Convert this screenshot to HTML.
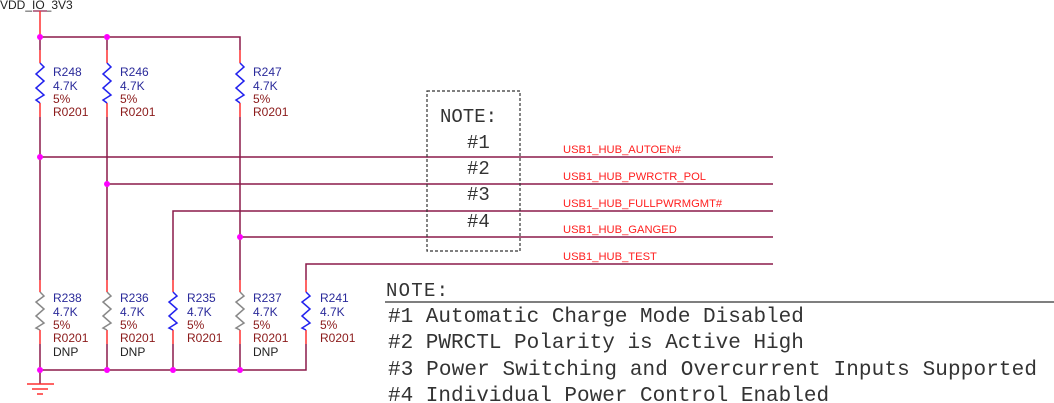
<!DOCTYPE html>
<html><head><meta charset="utf-8"><style>
html,body{margin:0;padding:0;background:#fff;}
svg{display:block;}
.l{font-family:"Liberation Sans",sans-serif;font-size:12px;}
.b{fill:#2a2a9a}.r{fill:#8b1a1a}.k{fill:#222}
.n{font-family:"Liberation Sans",sans-serif;font-size:11.2px;fill:#ff2020;}
.m{font-family:"Liberation Mono",monospace;fill:#333;}
</style></head><body>
<svg width="1054" height="403" viewBox="0 0 1054 403" xmlns="http://www.w3.org/2000/svg">
<text x="0" y="9" class="l k" font-size="11">VDD_IO_3V3</text>
<line x1="33" y1="11" x2="47" y2="11" stroke="#8b1a4a" stroke-width="1.2"/>
<line x1="40" y1="11" x2="40" y2="37" stroke="#ff3030" stroke-width="1.5"/>
<g fill="none" stroke="#8b1a4a" stroke-width="1.5">
<polyline points="40,37 240,37 240,50"/>
<line x1="40" y1="117" x2="40" y2="280"/>
<line x1="107" y1="37" x2="107" y2="50"/>
<line x1="40" y1="37" x2="40" y2="50"/>
<line x1="107" y1="117" x2="107" y2="280"/>
<line x1="240" y1="117" x2="240" y2="280"/>
<polyline points="173,280 173,211 773,211"/>
<polyline points="306,280 306,264 773,264"/>
<line x1="40" y1="157" x2="773" y2="157"/>
<line x1="107" y1="184" x2="773" y2="184"/>
<line x1="240" y1="237" x2="773" y2="237"/>
<polyline points="40,344 40,370 306,370 306,344"/>
<line x1="107" y1="344" x2="107" y2="370"/>
<line x1="173" y1="344" x2="173" y2="370"/>
<line x1="240" y1="344" x2="240" y2="370"/>
<line x1="40" y1="370" x2="40" y2="384"/>
</g>
<g stroke="#ff3030" stroke-width="1.5">
<line x1="40" y1="50" x2="40" y2="63"/><line x1="40" y1="103" x2="40" y2="117"/>
<line x1="107" y1="50" x2="107" y2="63"/><line x1="107" y1="103" x2="107" y2="117"/>
<line x1="240" y1="50" x2="240" y2="63"/><line x1="240" y1="103" x2="240" y2="117"/>
<line x1="40" y1="280" x2="40" y2="292"/><line x1="40" y1="330" x2="40" y2="344"/>
<line x1="107" y1="280" x2="107" y2="292"/><line x1="107" y1="330" x2="107" y2="344"/>
<line x1="173" y1="280" x2="173" y2="292"/><line x1="173" y1="330" x2="173" y2="344"/>
<line x1="240" y1="280" x2="240" y2="292"/><line x1="240" y1="330" x2="240" y2="344"/>
<line x1="306" y1="280" x2="306" y2="292"/><line x1="306" y1="330" x2="306" y2="344"/>
<line x1="27" y1="384" x2="54" y2="384"/><line x1="32" y1="389" x2="48" y2="389"/><line x1="37" y1="394" x2="43" y2="394"/>
</g>
<g fill="none" stroke-width="1.5">
<polyline stroke="#2222ee" points="40,63 44,67 36,74 44,81 36,88 44,95 36,100 40,103"/>
<polyline stroke="#2222ee" points="107,63 111,67 103,74 111,81 103,88 111,95 103,100 107,103"/>
<polyline stroke="#2222ee" points="240,63 244,67 236,74 244,81 236,88 244,95 236,100 240,103"/>
<polyline stroke="#888" points="40,292 44,296 36,302 44,309 36,316 44,323 36,328 40,330"/>
<polyline stroke="#888" points="107,292 111,296 103,302 111,309 103,316 111,323 103,328 107,330"/>
<polyline stroke="#2222ee" points="173,292 177,296 169,302 177,309 169,316 177,323 169,328 173,330"/>
<polyline stroke="#888" points="240,292 244,296 236,302 244,309 236,316 244,323 236,328 240,330"/>
<polyline stroke="#2222ee" points="306,292 310,296 302,302 310,309 302,316 310,323 302,328 306,330"/>
</g>
<g fill="#ff00ff">
<circle cx="40" cy="37" r="3"/><circle cx="107" cy="37" r="3"/>
<circle cx="40" cy="157" r="3"/><circle cx="107" cy="184" r="3"/><circle cx="240" cy="237" r="3"/>
<circle cx="40" cy="370" r="3"/><circle cx="107" cy="370" r="3"/><circle cx="173" cy="370" r="3"/><circle cx="240" cy="370" r="3"/>
</g>
<g class="l">
<text x="53" y="76" class="b">R248</text><text x="53" y="90" class="b">4.7K</text><text x="53" y="103" class="r">5%</text><text x="53" y="116" class="r">R0201</text>
<text x="120" y="76" class="b">R246</text><text x="120" y="90" class="b">4.7K</text><text x="120" y="103" class="r">5%</text><text x="120" y="116" class="r">R0201</text>
<text x="253" y="76" class="b">R247</text><text x="253" y="90" class="b">4.7K</text><text x="253" y="103" class="r">5%</text><text x="253" y="116" class="r">R0201</text>
<text x="53" y="302" class="b">R238</text><text x="53" y="316" class="b">4.7K</text><text x="53" y="329" class="r">5%</text><text x="53" y="342" class="r">R0201</text><text x="53" y="356" class="k">DNP</text>
<text x="120" y="302" class="b">R236</text><text x="120" y="316" class="b">4.7K</text><text x="120" y="329" class="r">5%</text><text x="120" y="342" class="r">R0201</text><text x="120" y="356" class="k">DNP</text>
<text x="187" y="302" class="b">R235</text><text x="187" y="316" class="b">4.7K</text><text x="187" y="329" class="r">5%</text><text x="187" y="342" class="r">R0201</text>
<text x="253" y="302" class="b">R237</text><text x="253" y="316" class="b">4.7K</text><text x="253" y="329" class="r">5%</text><text x="253" y="342" class="r">R0201</text><text x="253" y="356" class="k">DNP</text>
<text x="320" y="302" class="b">R241</text><text x="320" y="316" class="b">4.7K</text><text x="320" y="329" class="r">5%</text><text x="320" y="342" class="r">R0201</text>
</g>
<text x="563" y="153" class="n">USB1_HUB_AUTOEN#</text>
<text x="563" y="180" class="n">USB1_HUB_PWRCTR_POL</text>
<text x="563" y="207" class="n">USB1_HUB_FULLPWRMGMT#</text>
<text x="563" y="233" class="n">USB1_HUB_GANGED</text>
<text x="563" y="260" class="n">USB1_HUB_TEST</text>
<rect x="427" y="91" width="93" height="160" fill="none" stroke="#333" stroke-width="1.2" stroke-dasharray="3,2"/>
<g class="m" font-size="19">
<text x="440" y="122">NOTE:</text>
<text x="467" y="148">#1</text>
<text x="467" y="174">#2</text>
<text x="467" y="200">#3</text>
<text x="467" y="227">#4</text>
</g>
<line x1="385" y1="302" x2="1054" y2="302" stroke="#555" stroke-width="1.5"/>
<g class="m" font-size="21">
<text x="386" y="296" font-size="19" textLength="62">NOTE:</text>
<text x="388" y="322">#1 Automatic Charge Mode Disabled</text>
<text x="388" y="348">#2 PWRCTL Polarity is Active High</text>
<text x="388" y="375" textLength="649">#3 Power Switching and Overcurrent Inputs Supported</text>
<text x="388" y="401">#4 Individual Power Control Enabled</text>
</g>
</svg>
</body></html>
